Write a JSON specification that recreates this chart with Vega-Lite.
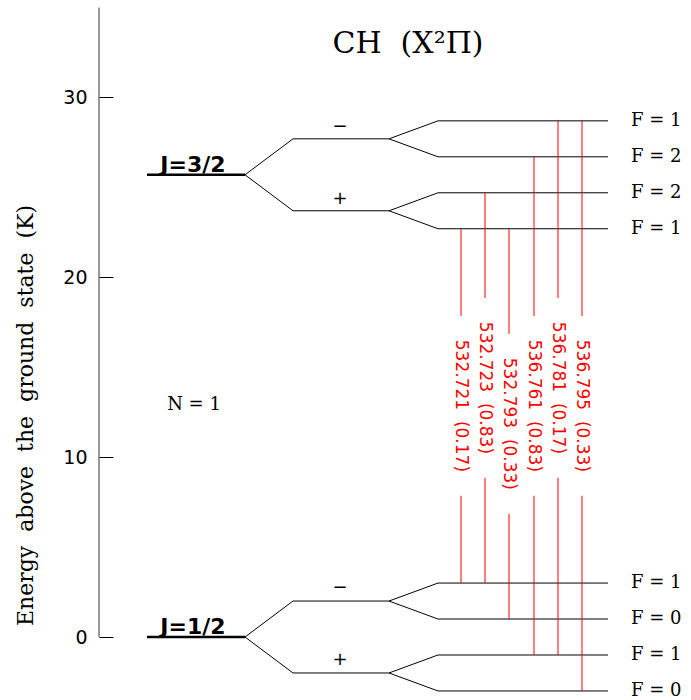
{
  "$schema": "https://vega.github.io/schema/vega-lite/v6.json",
  "width": 691,
  "height": 700,
  "autosize": {"type": "none"},
  "padding": 0,
  "background": "white",
  "config": {"view": {"stroke": null}},
  "datasets": {
    "segs": [
      {"t": "axis", "x": 0, "x2": 0, "y": 0, "y2": 35},
      {"t": "J", "x": 4.8, "x2": 14.6, "y": 25.7, "y2": 25.7},
      {"t": "J", "x": 4.8, "x2": 14.6, "y": 0, "y2": 0},
      {"t": "line", "x": 14.6, "x2": 19.4, "y": 25.7, "y2": 27.7},
      {"t": "line", "x": 14.6, "x2": 19.4, "y": 25.7, "y2": 23.7},
      {"t": "line", "x": 14.6, "x2": 19.4, "y": 0, "y2": 2},
      {"t": "line", "x": 14.6, "x2": 19.4, "y": 0, "y2": -2},
      {"t": "line", "x": 19.4, "x2": 29.0, "y": 27.7, "y2": 27.7},
      {"t": "line", "x": 19.4, "x2": 29.0, "y": 23.7, "y2": 23.7},
      {"t": "line", "x": 19.4, "x2": 29.0, "y": 2, "y2": 2},
      {"t": "line", "x": 19.4, "x2": 29.0, "y": -2, "y2": -2},
      {"t": "line", "x": 29.0, "x2": 33.9, "y": 27.7, "y2": 28.7},
      {"t": "line", "x": 29.0, "x2": 33.9, "y": 27.7, "y2": 26.7},
      {"t": "line", "x": 29.0, "x2": 33.9, "y": 23.7, "y2": 24.7},
      {"t": "line", "x": 29.0, "x2": 33.9, "y": 23.7, "y2": 22.7},
      {"t": "line", "x": 29.0, "x2": 33.9, "y": 2, "y2": 3},
      {"t": "line", "x": 29.0, "x2": 33.9, "y": 2, "y2": 1},
      {"t": "line", "x": 29.0, "x2": 33.9, "y": -2, "y2": -1},
      {"t": "line", "x": 29.0, "x2": 33.9, "y": -2, "y2": -3},
      {"t": "line", "x": 33.9, "x2": 50.9, "y": 28.7, "y2": 28.7},
      {"t": "line", "x": 33.9, "x2": 50.9, "y": 26.7, "y2": 26.7},
      {"t": "line", "x": 33.9, "x2": 50.9, "y": 24.7, "y2": 24.7},
      {"t": "line", "x": 33.9, "x2": 50.9, "y": 22.7, "y2": 22.7},
      {"t": "line", "x": 33.9, "x2": 50.9, "y": 3, "y2": 3},
      {"t": "line", "x": 33.9, "x2": 50.9, "y": 1, "y2": 1},
      {"t": "line", "x": 33.9, "x2": 50.9, "y": -1, "y2": -1},
      {"t": "line", "x": 33.9, "x2": 50.9, "y": -3, "y2": -3},
      {"t": "trans", "x": 36.2, "x2": 36.2, "y": 22.7, "y2": 17.85},
      {"t": "trans", "x": 36.2, "x2": 36.2, "y": 7.85, "y2": 3.0},
      {"t": "trans", "x": 38.6, "x2": 38.6, "y": 24.7, "y2": 18.85},
      {"t": "trans", "x": 38.6, "x2": 38.6, "y": 8.85, "y2": 3.0},
      {"t": "trans", "x": 41.0, "x2": 41.0, "y": 22.7, "y2": 16.85},
      {"t": "trans", "x": 41.0, "x2": 41.0, "y": 6.85, "y2": 1.0},
      {"t": "trans", "x": 43.5, "x2": 43.5, "y": 26.7, "y2": 17.85},
      {"t": "trans", "x": 43.5, "x2": 43.5, "y": 7.85, "y2": -1.0},
      {"t": "trans", "x": 45.9, "x2": 45.9, "y": 28.7, "y2": 18.85},
      {"t": "trans", "x": 45.9, "x2": 45.9, "y": 8.85, "y2": -1.0},
      {"t": "trans", "x": 48.3, "x2": 48.3, "y": 28.7, "y2": 17.85},
      {"t": "trans", "x": 48.3, "x2": 48.3, "y": 7.85, "y2": -3.0}
    ],
    "translabels": [
      {"x": 36.2, "y": 12.85, "label": "532.721\u00a0 (0.17)"},
      {"x": 38.6, "y": 13.85, "label": "532.723\u00a0 (0.83)"},
      {"x": 41.0, "y": 11.85, "label": "532.793\u00a0 (0.33)"},
      {"x": 43.5, "y": 12.85, "label": "536.761\u00a0 (0.83)"},
      {"x": 45.9, "y": 13.85, "label": "536.781\u00a0 (0.17)"},
      {"x": 48.3, "y": 12.85, "label": "536.795\u00a0 (0.33)"}
    ],
    "flabels": [
      {"x": 53.2, "y": 28.7, "label": "F = 1"},
      {"x": 53.2, "y": 26.7, "label": "F = 2"},
      {"x": 53.2, "y": 24.7, "label": "F = 2"},
      {"x": 53.2, "y": 22.7, "label": "F = 1"},
      {"x": 53.2, "y": 3, "label": "F = 1"},
      {"x": 53.2, "y": 1, "label": "F = 0"},
      {"x": 53.2, "y": -1, "label": "F = 1"},
      {"x": 53.2, "y": -3, "label": "F = 0"}
    ],
    "pm": [
      {"x": 24.1, "y": 28.36, "label": "−"},
      {"x": 24.1, "y": 24.36, "label": "+"},
      {"x": 24.1, "y": 2.72, "label": "−"},
      {"x": 24.1, "y": -1.28, "label": "+"}
    ],
    "jlabels": [
      {"x": 9.4, "y": 25.7, "label": "J=3/2"},
      {"x": 9.4, "y": 0, "label": "J=1/2"}
    ],
    "nlabel": [{"x": 9.5, "y": 12.9, "label": "N = 1"}],
    "title": [{"x": 30.9, "y": 32.47, "label": "CH\u00a0 (X²Π)"}]
  },
  "encoding": {
    "x": {"field": "x", "type": "quantitative", "scale": {"domain": [-9.9, 59.2], "nice": false, "zero": false}, "axis": null},
    "y": {
      "field": "y", "type": "quantitative",
      "scale": {"domain": [-3.503, 35.42], "nice": false, "zero": false},
      "axis": {
        "title": "Energy\u00a0 above\u00a0 the\u00a0 ground\u00a0 state\u00a0 (K)",
        "values": [0, 10, 20, 30],
        "offset": -99,
        "domain": false,
        "grid": false,
        "tickSize": -14,
        "tickColor": "#000",
        "tickWidth": 1,
        "labelPadding": 26,
        "labelFont": "DejaVu Sans",
        "labelFontSize": 19,
        "labelColor": "#000",
        "titleFont": "DejaVu Serif",
        "titleFontSize": 22,
        "titleFontWeight": "normal",
        "titleColor": "#000",
        "titleX": -67,
        "titleY": 415,
        "titleAngle": -90,
        "titleAlign": "center",
        "titleBaseline": "alphabetic"
      }
    }
  },
  "layer": [
    {
      "data": {"name": "segs"},
      "transform": [{"filter": "datum.t == 'axis'"}],
      "mark": {"type": "rule", "color": "#333", "strokeWidth": 1},
      "encoding": {"x2": {"field": "x2"}, "y2": {"field": "y2"}}
    },
    {
      "data": {"name": "segs"},
      "transform": [{"filter": "datum.t == 'line'"}],
      "mark": {"type": "rule", "color": "#000", "strokeWidth": 1},
      "encoding": {"x2": {"field": "x2"}, "y2": {"field": "y2"}}
    },
    {
      "data": {"name": "segs"},
      "transform": [{"filter": "datum.t == 'J'"}],
      "mark": {"type": "rule", "color": "#000", "strokeWidth": 2.5},
      "encoding": {"x2": {"field": "x2"}, "y2": {"field": "y2"}}
    },
    {
      "data": {"name": "segs"},
      "transform": [{"filter": "datum.t == 'trans'"}],
      "mark": {"type": "rule", "color": "#ff0000", "strokeWidth": 1},
      "encoding": {"x2": {"field": "x2"}, "y2": {"field": "y2"}}
    },
    {
      "data": {"name": "translabels"},
      "mark": {"type": "text", "angle": 90, "color": "#ff0000", "font": "DejaVu Sans", "fontSize": 17, "align": "center", "baseline": "middle"},
      "encoding": {"text": {"field": "label"}}
    },
    {
      "data": {"name": "flabels"},
      "mark": {"type": "text", "color": "#000", "font": "DejaVu Serif", "fontSize": 18, "align": "left", "baseline": "middle", "dy": 0},
      "encoding": {"text": {"field": "label"}}
    },
    {
      "data": {"name": "pm"},
      "mark": {"type": "text", "color": "#000", "font": "DejaVu Sans", "fontSize": 18, "align": "center", "baseline": "middle"},
      "encoding": {"text": {"field": "label"}}
    },
    {
      "data": {"name": "jlabels"},
      "mark": {"type": "text", "color": "#000", "font": "DejaVu Sans", "fontWeight": "bold", "fontSize": 22, "align": "center", "baseline": "alphabetic", "dy": -3},
      "encoding": {"text": {"field": "label"}}
    },
    {
      "data": {"name": "nlabel"},
      "mark": {"type": "text", "color": "#000", "font": "DejaVu Serif", "fontSize": 18, "align": "center", "baseline": "middle"},
      "encoding": {"text": {"field": "label"}}
    },
    {
      "data": {"name": "title"},
      "mark": {"type": "text", "color": "#000", "font": "DejaVu Serif", "fontSize": 30, "align": "center", "baseline": "alphabetic"},
      "encoding": {"text": {"field": "label"}}
    }
  ]
}
